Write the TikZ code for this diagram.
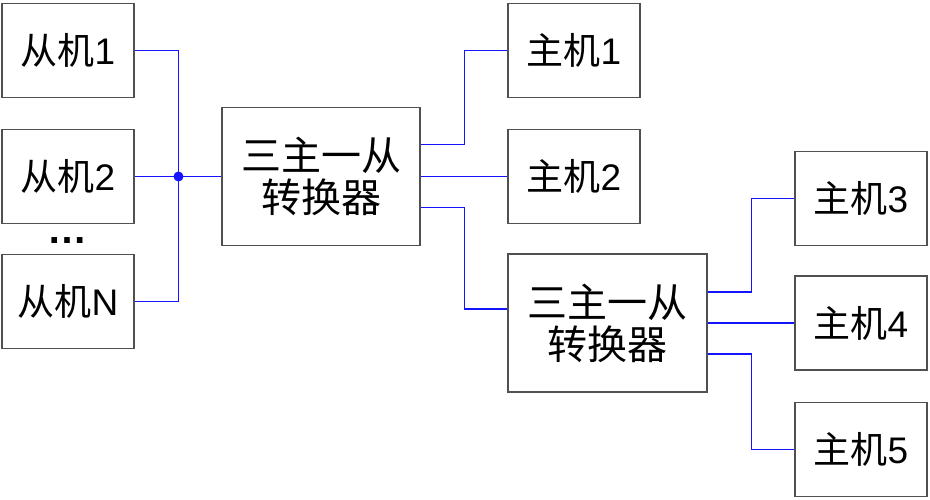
\documentclass[tikz,border=0pt]{standalone}
\usepackage{fontspec}
\setmainfont{Liberation Sans}
\newfontfamily\cjk{Noto Sans CJK SC}
\usetikzlibrary{calc}
\definecolor{boxgray}{RGB}{80,80,80}
\definecolor{linkblue}{RGB}{20,20,255}
\begin{document}
\begin{tikzpicture}[x=1pt,y=-1pt,
  box/.style={draw=boxgray,line width=1.3pt,rectangle,inner sep=0pt,minimum width=132pt,minimum height=94pt,font=\fontsize{37}{40}\selectfont},
  conv/.style={draw=boxgray,line width=1.3pt,rectangle,inner sep=0pt,minimum width=198pt,minimum height=138pt,align=center,font=\fontsize{40}{42}\selectfont},
  link/.style={draw=linkblue,line width=1.4pt}]
\useasboundingbox (0,0) rectangle (930,499);
\node[box] (s1) at (68,50.5) {{\cjk 从机}1};
\node[box] (s2) at (68,176.5) {{\cjk 从机}2};
\node[box] (sN) at (68,301.5) {{\cjk 从机}N};
\node[font=\bfseries\fontsize{40}{40}\selectfont] (dots) at (67,241) {…};
\node[conv] (c1) at (321,176.5) {\cjk 三主一从\\\cjk 转换器};
\node[box] (m1) at (574,50.5) {{\cjk 主机}1};
\node[box] (m2) at (574,176.5) {{\cjk 主机}2};
\node[conv,minimum width=199pt] (c2) at (607.5,323) {\cjk 三主一从\\\cjk 转换器};
\node[box] (m3) at (861,198.5) {{\cjk 主机}3};
\node[box] (m4) at (861,323) {{\cjk 主机}4};
\node[box] (m5) at (861,449.5) {{\cjk 主机}5};
\coordinate (J) at (178.5,176.5);
\draw[link] (s1.east) -| (J);
\draw[link] (sN.east) -| (J);
\draw[link] (s2.east) -- (J) -- (c1.west);
\fill[linkblue] (J) circle (5pt);
\draw[link] ([yshift=32pt]c1.east) -- ++(44,0) |- (m1.west);
\draw[link] (c1.east) -- (m2.west);
\draw[link] ([yshift=-31pt]c1.east) -- ++(44,0) |- ([yshift=14pt]c2.west);
\draw[link] ([yshift=31pt]c2.east) -- ++(44,0) |- (m3.west);
\draw[link] (c2.east) -- (m4.west);
\draw[link] ([yshift=-31pt]c2.east) -- ++(44,0) |- (m5.west);
\end{tikzpicture}
\end{document}
